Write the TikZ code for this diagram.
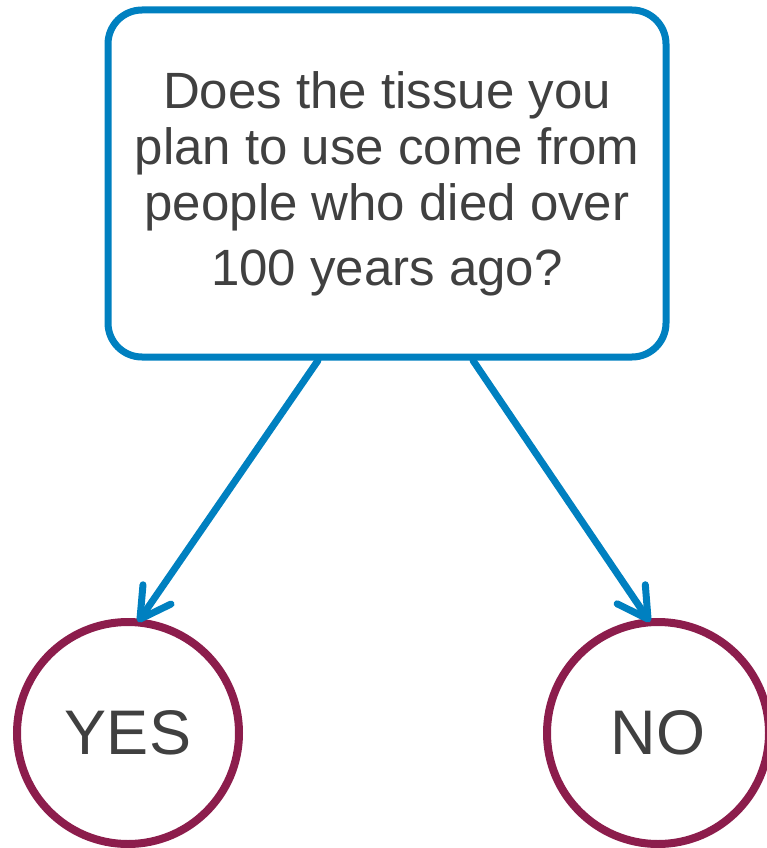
\documentclass[tikz,border=0pt]{standalone}
\usepackage{fontspec}
\setmainfont{Liberation Sans}
\usetikzlibrary{arrows.meta}
\definecolor{qblue}{RGB}{0,128,192}
\definecolor{ansred}{RGB}{140,29,76}
\definecolor{txtgray}{RGB}{64,64,64}
\begin{document}
\begin{tikzpicture} [x=1pt,y=-1pt,text=txtgray]
    \useasboundingbox (0,0) rectangle (766,848);
    \path node (question) at (387,183.5) [draw=qblue, line width=7pt, rounded corners=34pt,
                minimum width=558pt, minimum height=347pt, align=center,
                font=\fontsize{51}{56}\selectfont]
                {Does the tissue you\\plan to use come from\\people who died over\\[9pt]100 years ago?}
          node (yes) at (128,733) [circle, draw=ansred, line width=8pt, minimum size=222pt,
                font=\fontsize{63}{68}\selectfont] {YES}
          node (no) at (658,733) [circle, draw=ansred, line width=8pt, minimum size=222pt,
                font=\fontsize{63}{68}\selectfont] {NO};
    \draw [qblue, line width=7pt, line cap=round, -{Straight Barb[length=30pt, width=34pt, round]}]
          ([xshift=-69pt]question.south) -- ([xshift=10pt, yshift=-4pt]yes.north);
    \draw [qblue, line width=7pt, line cap=round, -{Straight Barb[length=30pt, width=34pt, round]}]
          ([xshift=86pt]question.south) -- ([xshift=-8pt, yshift=-4pt]no.north);
 \end{tikzpicture}
\end{document}
